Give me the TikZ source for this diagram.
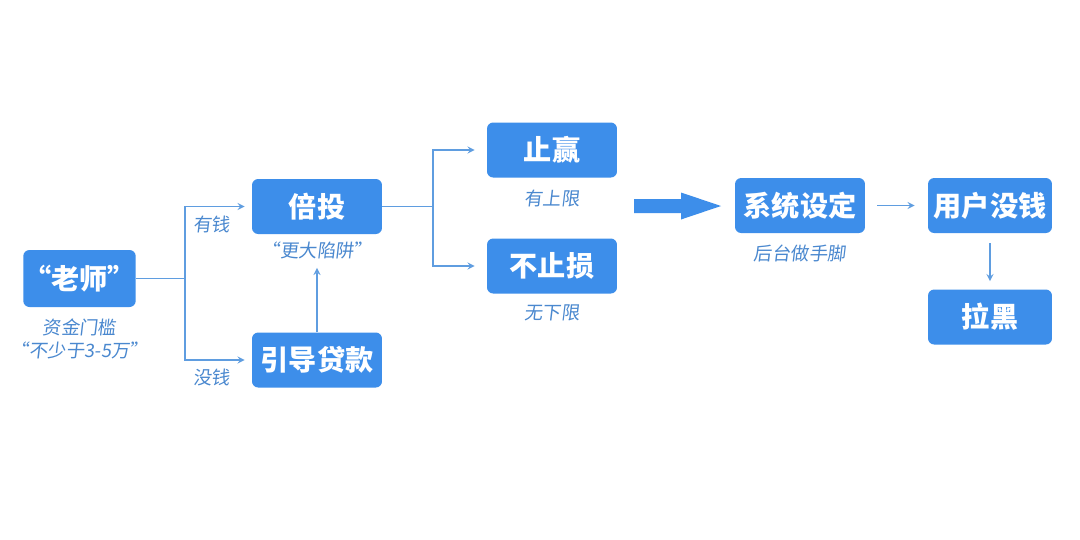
\documentclass[tikz,border=0pt]{standalone}
\usepackage{fontspec}
\setmainfont{Noto Sans CJK SC}
\newfontfamily\notefont{Noto Sans CJK SC}[FakeSlant=0.12]
\usepackage{xcolor}
\usepackage{tikz}
\usetikzlibrary{arrows, calc}

\definecolor{boxblue}{HTML}{3D8EEA}
\definecolor{noteblue}{HTML}{4A88CF}
\definecolor{lineblue}{HTML}{5F9DE0}

\begin{document}
\begin{tikzpicture}[x=0.02cm, y=-0.02cm]
\tikzstyle{box} = [rectangle, rounded corners=3.5pt, minimum width=2.6cm, minimum height=1.1cm, inner sep=0pt, text centered, fill=boxblue, text=white, font=\fontsize{16}{19}\selectfont\bfseries]
\tikzstyle{note} = [text=noteblue, inner sep=0pt, font=\fontsize{10.5}{13}\notefont]
\tikzstyle{arrow} = [thick, ->, >=stealth, draw=lineblue]
\tikzstyle{line} = [thick, draw=lineblue]

\useasboundingbox[fill=white] (0,0) rectangle (1080,539);

% boxes
\node[box, minimum width=2.22cm, minimum height=1.14cm] (teacher) at (79.5,278.5) {“老师”};
\node[box] (double) at (317,206.5) {倍投};
\node[box] (loan) at (317,360) {引导贷款};
\node[box] (stopwin) at (552,150) {止赢};
\node[box] (noloss) at (552,266) {不止损};
\node[box] (system) at (800,205.5) {系统设定};
\node[box, minimum width=2.48cm] (nomoney) at (990,205.5) {用户没钱};
\node[box, minimum width=2.48cm] (block) at (990,317) {拉黑};

% notes
\node[note, align=center] (threshold) at (79.5,339) {资金门槛\\“不少于3-5万”};
\node[note] (trap) at (317,250) {“更大陷阱”};
\node[note] (upper) at (552,198) {有上限};
\node[note] (lower) at (552,313) {无下限};
\node[note] (trick) at (800,253) {后台做手脚};
\node[note] (rich) at (212,224) {有钱};
\node[note] (poor) at (212,377) {没钱};

% big arrow
\coordinate (bigarrow) at (634,206);
\fill[boxblue] (bigarrow) ++(0,-7) -- ++(47,0) -- ++(0,-6.5) -- ++(40,13.5)
  -- ++(-40,13.5) -- ++(0,-6.5) -- ++(-47,0) -- cycle;

% connectors
\coordinate (split1) at (185,278.5);
\coordinate (split2) at (433,206.5);
\draw[line] (teacher) -- (split1);
\draw[arrow, shorten >=0.14cm] (split1) |- (double);
\draw[arrow, shorten >=0.14cm] (split1) |- (loan);
\draw[arrow, shorten >=0.18cm] (loan) -- (trap);
\draw[line] (double) -- (split2);
\draw[arrow, shorten >=0.24cm] (split2) |- (stopwin);
\draw[arrow, shorten >=0.24cm] (split2) |- (noloss);
\draw[arrow, shorten <=0.24cm, shorten >=0.26cm] (system) -- (nomoney);
\draw[arrow, shorten <=0.2cm, shorten >=0.16cm] (nomoney) -- (block);
\end{tikzpicture}
\end{document}
